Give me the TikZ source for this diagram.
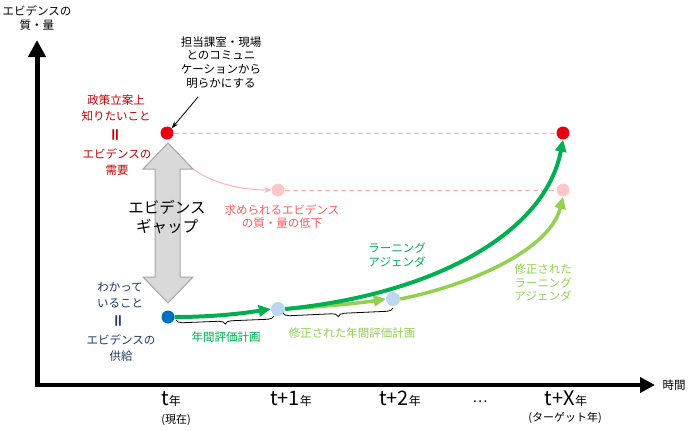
\documentclass[tikz,border=0pt]{standalone}
\usepackage{fontspec}
\setmainfont{Noto Sans CJK JP}
\usetikzlibrary{arrows.meta,decorations.pathreplacing}
\definecolor{dred}{RGB}{192,0,0}
\definecolor{dotred}{RGB}{230,0,18}
\definecolor{pinkdot}{RGB}{255,199,199}
\definecolor{pinkline}{RGB}{255,180,180}
\definecolor{pinktext}{RGB}{255,90,90}
\definecolor{gapfill}{RGB}{217,217,217}
\definecolor{gapline}{RGB}{166,166,166}
\definecolor{bluedot}{RGB}{0,112,192}
\definecolor{lbdot}{RGB}{189,215,238}
\definecolor{dgreen}{RGB}{0,176,80}
\definecolor{lgreen}{RGB}{146,208,80}
\definecolor{navy}{RGB}{31,56,100}
\pgfdeclarelayer{bg}
\pgfsetlayers{bg,main}
\tikzset{
  dot/.style={circle, draw=none, minimum size=13pt, inner sep=0pt},
  txt/.style={align=center, inner sep=0pt, font=\fontsize{11.5}{16}\selectfont},
  eqsign/.style={inner sep=0pt, rotate=90, font=\fontsize{15}{15}\selectfont\bfseries},
  tick/.style={inner sep=0pt, anchor=base, font=\fontsize{20}{20}\selectfont},
  pinkdash/.style={pinkline, line width=0.8pt, dash pattern=on 5pt off 3pt},
  darkarrow/.style={dgreen, line width=4pt, -{Triangle[length=12pt,width=11pt]}},
  lightarrow/.style={lgreen, line width=3.5pt, -{Triangle[length=12pt,width=11pt]}},
  bracestyle/.style={decorate, decoration={brace, amplitude=6pt}, line width=0.8pt}
}
\newcommand{\nen}{{\fontsize{12}{12}\selectfont 年}}
\begin{document}
\begin{tikzpicture}[x=1pt,y=-1pt]
\useasboundingbox (0,0) rectangle (688,429);

% axes
\coordinate (yb) at (37,387);
\coordinate (yt) at (37,40);
\coordinate (xl) at (35,385);
\coordinate (xr) at (655,385);
\draw[line width=5pt, -{Triangle[length=17pt,width=17pt]}] (yb) -- (yt);
\draw[line width=4pt, -{Triangle[length=15pt,width=15pt]}] (xl) -- (xr);
\node[txt, font=\fontsize{11.5}{14}\selectfont] (ylab) at (37,18) {エビデンスの\\質・量};
\node[txt] (xlab) at (674,385) {時間};

% gap arrow
\draw[gapline, fill=gapfill, line width=1pt]
  (168,143) -- (193,169) -- (180,169) -- (180,277) -- (193,277) -- (168,303)
  -- (143,277) -- (155,277) -- (155,169) -- (143,169) -- cycle;
\coordinate (gapcorner) at (193,169);
\node[txt, font=\fontsize{15.5}{19}\selectfont] (gap) at (167,217) {エビデンス\\ギャップ};

% dots
\node[dot, fill=dotred] (redL) at (167,133) {};
\node[dot, fill=dotred] (redR) at (563,133) {};
\node[dot, fill=pinkdot] (pinkL) at (278,190) {};
\node[dot, fill=pinkdot] (pinkR) at (563,190) {};
\node[dot, fill=bluedot] (blue) at (168,317) {};
\node[dot, fill=lbdot, minimum size=14pt] (lb1) at (278,309) {};
\node[dot, fill=lbdot, minimum size=14pt] (lb2) at (393,299) {};

\begin{pgfonlayer}{bg}
\draw[pinkdash] (redL) -- (redR);
\draw[pinkdash] (pinkL) -- (pinkR);
\draw[pinkline, line width=1pt, -{Stealth[length=7pt,width=6pt]}]
  (gapcorner) .. controls (215,185) and (245,190) .. (pinkL.west);
\draw[lightarrow] (lb1.east) .. controls (330,306) and (360,303) .. (lb2.west);
\draw[lightarrow] (lb2.east) .. controls (470,285) and (550,250) .. (pinkR.south);
\draw[darkarrow] (blue.east) .. controls (215,317) and (245,313) .. (lb1.west);
\draw[darkarrow] (lb1.east) .. controls (430,295) and (545,235) .. (redR.south);
\end{pgfonlayer}

% callout
\node[txt, font=\fontsize{11.5}{13.7}\selectfont] (callout) at (221,62.5)
  {担当課室・現場\\とのコミュニ\\ケーションから\\明らかにする};
\coordinate (calloutfoot) at (198,97);
\draw[line width=0.8pt, -{Stealth[length=7pt,width=5pt]}] (calloutfoot) -- (redL.north east);

% demand text
\node[txt, text=dred] (dem1) at (116,108) {政策立案上\\知りたいこと};
\node[eqsign, text=dred] (dem2) at (117,135) {＝};
\node[txt, text=dred] (dem3) at (117,162.5) {エビデンスの\\需要};

% supply text
\node[txt, text=navy] (sup1) at (120,295) {わかって\\いること};
\node[eqsign, text=navy] (sup2) at (120,321) {＝};
\node[txt, text=navy] (sup3) at (121,348.5) {エビデンスの\\供給};

% pink text
\node[txt, text=pinktext, font=\fontsize{11.5}{13}\selectfont] (decl) at (282,217)
  {求められるエビデンス\\の質・量の低下};

% agenda labels
\node[txt, text=dgreen, font=\fontsize{11.5}{14}\selectfont] (la) at (397,255) {ラーニング\\アジェンダ};
\node[txt, text=lgreen, font=\fontsize{11.5}{13.5}\selectfont] (mla) at (543,283)
  {修正された\\ラーニング\\アジェンダ};

% braces
\coordinate (b1r) at (274,316);
\coordinate (b1l) at (176,320);
\coordinate (b2r) at (393,308);
\coordinate (b2l) at (283,313);
\draw[bracestyle] (b1r) -- (b1l);
\draw[bracestyle] (b2r) -- (b2l);
\node[txt, text=dgreen] (plan) at (226,337) {年間評価計画};
\node[txt, text=lgreen] (mplan) at (352,333) {修正された年間評価計画};

% ticks
\node[tick] (t0) at (171,405) {t\nen};
\node[txt, font=\fontsize{11}{13}\selectfont] (t0b) at (176,420) {(現在)};
\node[tick] (t1) at (291,405) {t+1\nen};
\node[tick] (t2) at (400,405) {t+2\nen};
\node[tick, font=\fontsize{14}{14}\selectfont] (tdots) at (480,402) {…};
\node[tick] (tx) at (566,405) {t+X\nen};
\node[txt, font=\fontsize{11}{13}\selectfont] (txb) at (565,418) {(ターゲット年)};
\end{tikzpicture}
\end{document}
